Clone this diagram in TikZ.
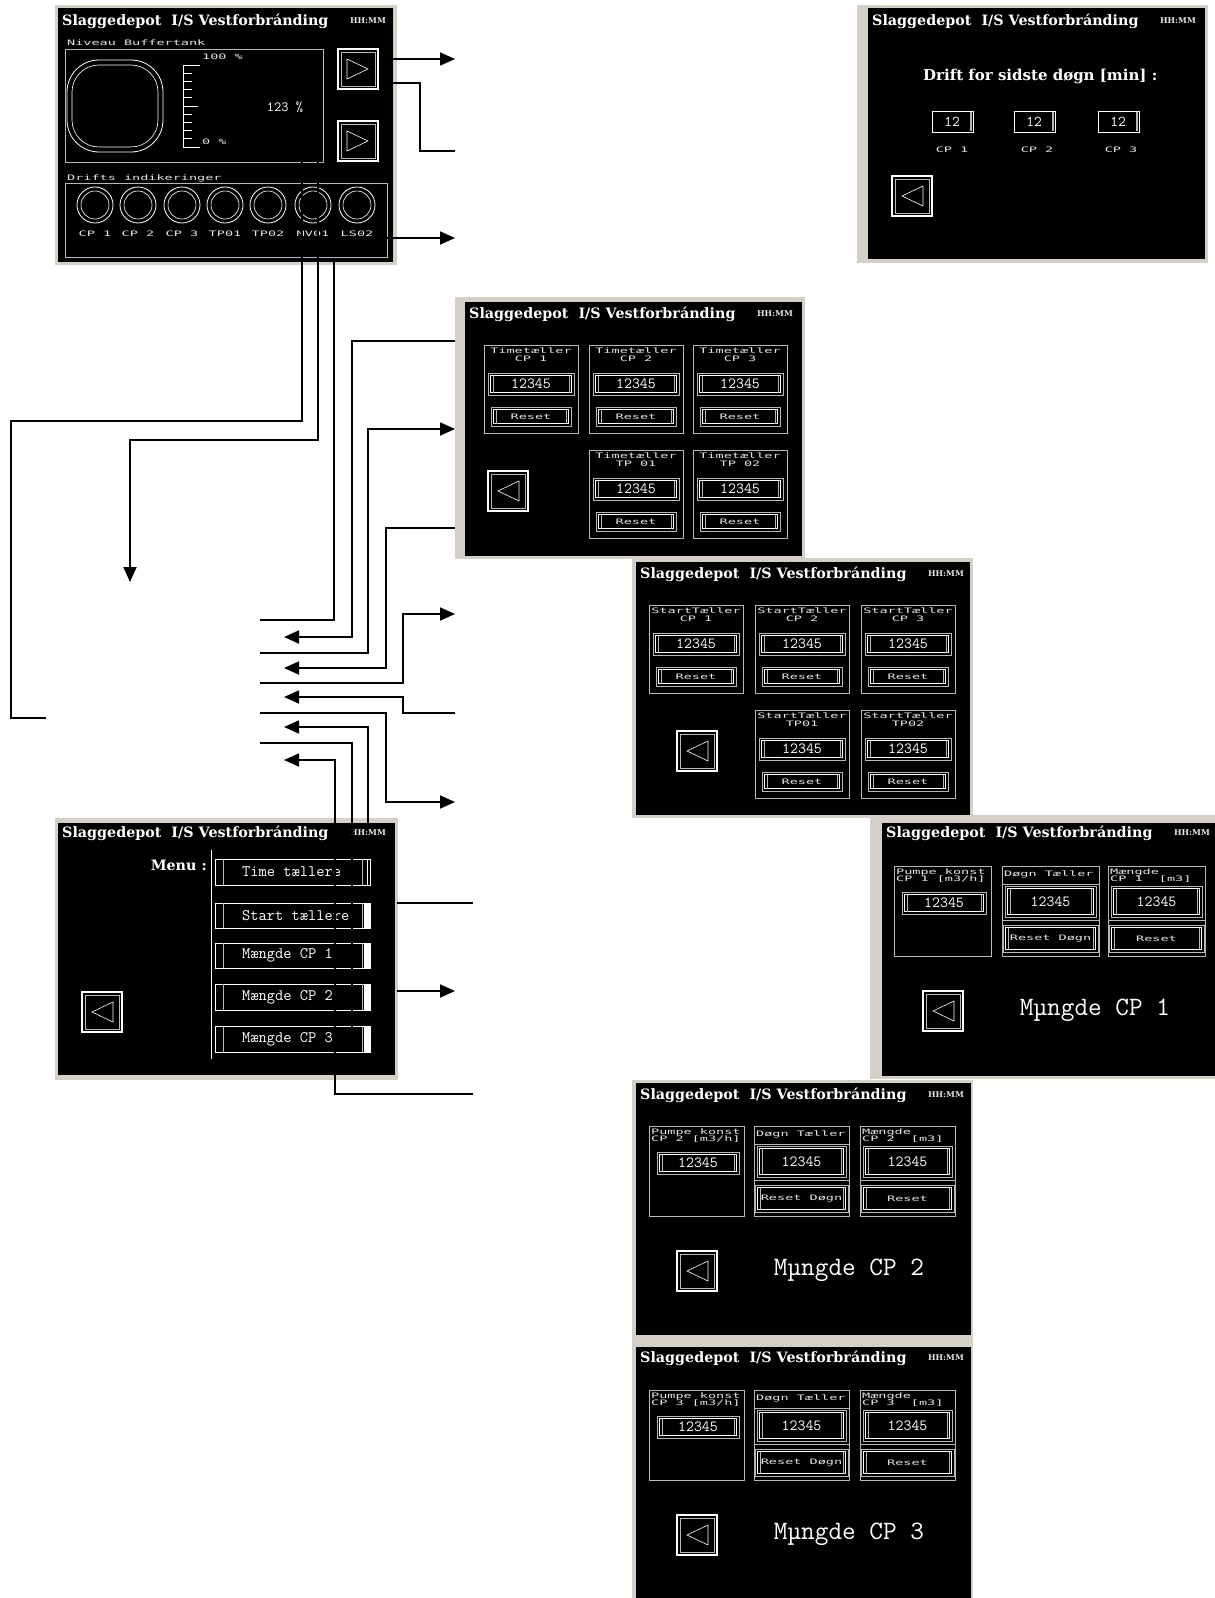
\documentclass[tikz,border=0pt]{standalone}
\usepackage{fontspec}
\usepackage{graphicx}
\usetikzlibrary{arrows.meta}
\newfontfamily\ttlf{DejaVu Serif}
\newfontfamily\pxf{DejaVu Sans Mono}
\definecolor{lg}{HTML}{B8B8B8}
\definecolor{wg}{HTML}{E6E6E6}
\definecolor{frm}{HTML}{D4D0C8}

\newcommand{\Ttl}[1]{{\ttlf\bfseries\fontsize{14.3}{15}\selectfont #1}}
\newcommand{\Hm}{{\ttlf\bfseries\fontsize{8}{8}\selectfont HH:MM}}
\newcommand{\Px}[1]{\scalebox{1.8}[1]{\pxf\fontsize{7.5}{7.5}\selectfont #1}}
\newcommand{\Vf}[2]{{\ttfamily\fontsize{#1}{#1}\selectfont #2}}

\tikzset{
 txt/.style={inner sep=0pt, text=white},
 gtxt/.style={inner sep=0pt, text=wg},
 conn/.style={draw=black, line width=1.8pt},
 arr/.style={conn, -{Triangle[length=15pt,width=13pt]}},
 wl/.style={draw=white, line width=0.8pt},
 gl/.style={draw=lg, line width=0.7pt},
}

\newcommand{\scrbg}[8]{%
 \fill[frm] ({#1},{#2}) rectangle ({#3},{#4});
 \fill[black] ({#5},{#6}) rectangle ({#7},{#8});}

\newcommand{\scrtitle}[2]{%
 \node[txt,anchor=west] (#1ttl) at (4,{#2}) {\Ttl{Slaggedepot\ \ I/S Vestforbránding}};
 \node[gtxt] (#1hm) at (310,{#2}) {\Hm};}

\newcommand{\navbtn}[3]{%
 \draw[white,line width=1.4pt] ({#1},{#2}) rectangle ({#1+40},{#2+40});
 \draw[lg,line width=0.6pt] ({#1+3},{#2+3}) rectangle ({#1+37},{#2+37});
 \ifnum#3>0
  \draw[white,line width=0.6pt] ({#1+9},{#2+10}) -- ({#1+9},{#2+30}) -- ({#1+30},{#2+20}) -- cycle;
 \else
  \draw[white,line width=0.6pt] ({#1+31},{#2+10}) -- ({#1+31},{#2+30}) -- ({#1+10},{#2+20}) -- cycle;
 \fi}

\newcommand{\valbox}[6]{%
 \draw[lg,line width=0.7pt] ({#1},{#2}) rectangle ({#3},{#4});
 \draw[white,line width=0.7pt] ({#1+2.5},{#2+2.5}) rectangle ({#3-2.5},{#4-2.5});
 \draw[lg,line width=0.5pt] ({#1+5},{#2+2.5}) -- ({#1+5},{#4-2.5}) ({#3-5},{#2+2.5}) -- ({#3-5},{#4-2.5});
 \node[txt] at ({(#1+#3)/2},{(#2+#4)/2}) {\Vf{#5}{#6}};}

\newcommand{\rstbtn}[5]{%
 \draw[lg,line width=0.7pt] ({#1},{#2}) rectangle ({#3},{#4});
 \draw[white,line width=0.7pt] ({#1+2.5},{#2+2.5}) rectangle ({#3-2.5},{#4-2.5});
 \draw[lg,line width=0.5pt] ({#1+5},{#2+2.5}) -- ({#1+5},{#4-2.5}) ({#3-5},{#2+2.5}) -- ({#3-5},{#4-2.5});
 \node[gtxt] at ({(#1+#3)/2},{(#2+#4)/2}) {\Px{#5}};}

\newcommand{\cpanel}[4]{%
 \draw[lg,line width=0.7pt] ({#1},{#2}) rectangle ({#1+94},{#2+88});
 \node[gtxt,anchor=base] at ({#1+47},{#2+8.5}) {\Px{#3}};
 \node[gtxt,anchor=base] at ({#1+47},{#2+16}) {\Px{#4}};
 \valbox{#1+4}{#2+28}{#1+90}{#2+50}{15.5}{12345}
 \rstbtn{#1+7}{#2+62}{#1+87}{#2+81}{Reset}}

\newcommand{\mpanA}[4]{%
 \draw[lg,line width=0.7pt] ({#1},{#2}) rectangle ({#1+#3},{#2+90});
 \node[gtxt,anchor=base west] at ({#1+2},{#2+8}) {\Px{Pumpe konst}};
 \node[gtxt,anchor=base west] at ({#1+2},{#2+15.5}) {\Px{CP #4 [m3/h]}};
 \valbox{#1+8}{#2+26}{#1+#3-5}{#2+48}{15.5}{12345}}

\newcommand{\mpanB}[3]{%
 \draw[lg,line width=0.7pt] ({#1},{#2}) rectangle ({#1+#3},{#2+90});
 \node[gtxt,anchor=base west] at ({#1+2},{#2+10}) {\Px{Døgn Tæller}};
 \draw[lg,line width=0.7pt] ({#1},{#2+18}) -- ({#1+#3},{#2+18}) ({#1},{#2+54}) -- ({#1+#3},{#2+54});
 \valbox{#1+3}{#2+20}{#1+#3-3}{#2+51}{15.5}{12345}
 \rstbtn{#1+1}{#2+59}{#1+#3-1}{#2+86}{Reset Døgn}}

\newcommand{\mpanC}[4]{%
 \draw[lg,line width=0.7pt] ({#1},{#2}) rectangle ({#1+#3},{#2+90});
 \node[gtxt,anchor=base west] at ({#1+2},{#2+8}) {\Px{Mængde}};
 \node[gtxt,anchor=base west] at ({#1+2},{#2+15.5}) {\Px{CP #4\ \ [m3]}};
 \draw[lg,line width=0.7pt] ({#1},{#2+54}) -- ({#1+#3},{#2+54});
 \valbox{#1+3}{#2+20}{#1+#3-3}{#2+51}{15.5}{12345}
 \rstbtn{#1+1}{#2+59}{#1+#3-1}{#2+86}{Reset}}

\newcommand{\mscreen}[6]{%
 \scrtitle{m#1}{#6}
 \mpanA{#2}{43}{#5}{#1}
 \mpanB{#3}{43}{#5}
 \mpanC{#4}{43}{#5}{#1}
 \navbtn{41}{168}{-1}
 \node[txt] (m#1big) at (213,187) {\Vf{26.5}{Mµngde CP #1}};}

\newcommand{\numbox}[3]{%
 \draw[white,line width=0.9pt] ({#1},{#2}) rectangle ({#1+41},{#2+21});
 \draw[lg,line width=1.2pt] ({#1+39},{#2+1}) -- ({#1+39},{#2+20});
 \node[txt] at ({#1+20},{#2+10.5}) {\Vf{15}{#3}};}

\newcommand{\mbtn}[4]{%
 \draw[white,line width=0.8pt] (157,{#1}) rectangle (312,{#2});
 \draw[lg,line width=0.6pt] (165,{#1}) -- (165,{#2}) (304,{#1}) -- (304,{#2});
 \ifnum#4=1 \fill[white] (306,{#1}) rectangle (312,{#2});\else \draw[white,line width=0.8pt] (309,{#1}) -- (309,{#2});\fi
 \node[txt,anchor=west] at (184,{(#1+#2)/2}) {\Vf{16}{#3}};}

\begin{document}
\begin{tikzpicture}[x=1pt,y=-1pt]
\useasboundingbox (0,0) rectangle (1215,1598);
\fill[white] (0,0) rectangle (1215,1598);

% ---------- Screen 1: main ----------
\scrbg{55}{5}{397}{265}{58}{8}{393}{262}
\begin{scope}[shift={(58,8)}]
 \scrtitle{s1}{13}
 \node[gtxt,anchor=base west] (s1niv) at (9,37) {\Px{Niveau Buffertank}};
 \draw[gl] (7,41) rectangle (265,154);
 \draw[wl,rounded corners=32pt] (9,52) rectangle (105,144);
 \draw[wl,line width=0.6pt,rounded corners=27pt] (14,57) rectangle (100,139);
 \draw[wl] (125,57) -- (125,139);
 \foreach \i in {0,...,10} {\draw[wl] (125,{57+8.2*\i}) -- (134,{57+8.2*\i});}
 \draw[wl] (125,57) -- (142,57) (125,98) -- (140,98) (125,139) -- (142,139);
 \node[gtxt,anchor=west] (s1hi) at (144,49) {\Px{100 \%}};
 \node[gtxt,anchor=west] (s1lo) at (144,134) {\Px{0 \%}};
 \node[txt] (s1val) at (227,99) {\Vf{14}{123 \%}};
 \navbtn{280}{41}{1}
 \navbtn{280}{113}{1}
 \node[gtxt,anchor=base west] (s1dr) at (9,172) {\Px{Drifts indikeringer}};
 \draw[gl] (7,175) rectangle (329,249);
 \foreach \x/\l in {37/CP 1,80/CP 2,124/CP 3,167/TP01,210/TP02,255/MV01,299/LS02} {
   \draw[wl] (\x,197) circle[radius=18pt];
   \draw[wl,line width=0.6pt] (\x,197) circle[radius=14pt];
   \node[gtxt,anchor=base] at (\x,228) {\Px{\l}};}
\end{scope}

% ---------- Screen 2: drift ----------
\scrbg{857}{5}{1208}{263}{868}{8}{1205}{259}
\begin{scope}[shift={(868,8)}]
 \scrtitle{s2}{13}
 \node[txt,anchor=west] (s2q) at (55,68) {\Ttl{\fontsize{15}{15}\selectfont Drift for sidste døgn [min] :}};
 \numbox{64}{103}{12}
 \numbox{146}{103}{12}
 \numbox{230}{103}{12}
 \node[gtxt,anchor=base] (s2c1) at (84,144) {\Px{CP 1}};
 \node[gtxt,anchor=base] (s2c2) at (169,144) {\Px{CP 2}};
 \node[gtxt,anchor=base] (s2c3) at (253,144) {\Px{CP 3}};
 \navbtn{24}{168}{-1}
\end{scope}

% ---------- Screen 3: timetaeller ----------
\scrbg{455}{297}{805}{559}{465}{302}{802}{556}
\begin{scope}[shift={(465,302)}]
 \scrtitle{s3}{12}
 \cpanel{19}{43}{Timetæller}{CP 1}
 \cpanel{124}{43}{Timetæller}{CP 2}
 \cpanel{228}{43}{Timetæller}{CP 3}
 \cpanel{124}{148}{Timetæller}{TP 01}
 \cpanel{228}{148}{Timetæller}{TP 02}
 \navbtn{23}{169}{-1}
\end{scope}

% ---------- Screen 4: starttaeller ----------
\scrbg{632}{558}{973}{818}{636}{562}{970}{815}
\begin{scope}[shift={(636,562)}]
 \scrtitle{s4}{12}
 \cpanel{13}{43}{StartTæller}{CP 1}
 \cpanel{119}{43}{StartTæller}{CP 2}
 \cpanel{225}{43}{StartTæller}{CP 3}
 \cpanel{119}{148}{StartTæller}{TP01}
 \cpanel{225}{148}{StartTæller}{TP02}
 \navbtn{41}{169}{-1}
\end{scope}

% ---------- Screen 5: maengde CP1 ----------
\scrbg{870}{815}{1215}{1079}{882}{823}{1215}{1076}
\begin{scope}[shift={(882,823)}]
 \mscreen{1}{12}{120}{226}{97}{10}
\end{scope}

% ---------- Screen 6: maengde CP2 ----------
\scrbg{632}{1080}{973}{1338}{636}{1083}{971}{1335}
\begin{scope}[shift={(636,1083)}]
 \mscreen{2}{13}{118}{224}{95}{12}
\end{scope}

% ---------- Screen 7: maengde CP3 ----------
\scrbg{632}{1335}{973}{1598}{636}{1347}{971}{1598}
\begin{scope}[shift={(636,1347)}]
 \mscreen{3}{13}{118}{224}{95}{11}
\end{scope}

% ---------- Menu screen ----------
\scrbg{55}{818}{398}{1080}{58}{823}{395}{1075}
\begin{scope}[shift={(58,823)}]
 \scrtitle{sm}{10}
 \node[txt,anchor=east] (smmenu) at (149,42) {\Ttl{Menu :}};
 \draw[wl] (153,27) -- (153,236);
 \mbtn{36}{62}{Time tællere}{0}
 \mbtn{80}{105}{Start tællere}{1}
 \mbtn{120}{145}{Mængde CP 1}{1}
 \mbtn{161}{187}{Mængde CP 2}{1}
 \mbtn{203}{229}{Mængde CP 3}{1}
 \navbtn{24}{169}{-1}
\end{scope}

% ---------- connectors ----------
\coordinate (p1a) at (393,59);  \coordinate (p1b) at (455,59);
\draw[arr] (p1a) -- (p1b);
\coordinate (p2a) at (393,83);  \coordinate (p2b) at (455,151);
\draw[conn] (p2a) -- (420,83) -- (420,151) -- (p2b);
\coordinate (p3a) at (387,238); \coordinate (p3b) at (455,238);
\draw[arr] (p3a) -- (p3b);
\coordinate (l1a) at (302,162); \coordinate (l1b) at (46,718);
\draw[conn] (l1a) -- (302,421) -- (11,421) -- (11,718) -- (l1b);
\coordinate (l2a) at (318,162); \coordinate (l2b) at (130,582);
\draw[arr] (l2a) -- (318,440) -- (130,440) -- (l2b);
\coordinate (l3a) at (334,262); \coordinate (l3b) at (260,620);
\draw[conn] (l3a) -- (334,620) -- (l3b);
\coordinate (l4a) at (455,341); \coordinate (l4b) at (284,637);
\draw[arr] (l4a) -- (352,341) -- (352,637) -- (l4b);
\coordinate (l5a) at (260,653); \coordinate (l5b) at (455,429);
\draw[arr] (l5a) -- (368,653) -- (368,429) -- (l5b);
\coordinate (l6a) at (455,528); \coordinate (l6b) at (284,668);
\draw[arr] (l6a) -- (386,528) -- (386,668) -- (l6b);
\coordinate (l7a) at (260,683); \coordinate (l7b) at (455,614);
\draw[arr] (l7a) -- (403,683) -- (403,614) -- (l7b);
\coordinate (l8a) at (455,713); \coordinate (l8b) at (284,697);
\draw[arr] (l8a) -- (403,713) -- (403,697) -- (l8b);
\coordinate (l9a) at (260,713); \coordinate (l9b) at (455,802);
\draw[arr] (l9a) -- (386,713) -- (386,802) -- (l9b);
\coordinate (l10a) at (368,823); \coordinate (l10b) at (284,727);
\draw[arr] (l10a) -- (368,727) -- (l10b);
\coordinate (l11a) at (260,743); \coordinate (l11b) at (352,1052);
\draw[conn] (l11a) -- (352,743) -- (l11b);
\coordinate (l12a) at (473,1094); \coordinate (l12b) at (284,760);
\draw[arr] (l12a) -- (335,1094) -- (335,760) -- (l12b);
\coordinate (l13a) at (397,903); \coordinate (l13b) at (473,903);
\draw[conn] (l13a) -- (l13b);
\coordinate (l14a) at (397,991); \coordinate (l14b) at (455,991);
\draw[arr] (l14a) -- (l14b);
\end{tikzpicture}
\end{document}
